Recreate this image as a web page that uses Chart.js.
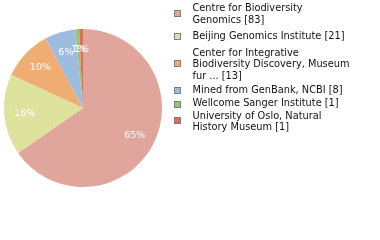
<!DOCTYPE html>
<html lang="en">
  <head>
    <meta charset="utf-8">
    <title>Institutions pie</title>
    <script src="https://cdn.jsdelivr.net/npm/chart.js"></script>
    <style>
      html, body {
        margin: 0;
        padding: 0;
        background: #ffffff;
      }
      #wrap {
        width: 380px;
        height: 240px;
      }
    </style>
  </head>
  <body>
    <div id="wrap"><canvas id="myChart"></canvas></div>

    <script>
      // data
      const institutions = [
        'Centre for Biodiversity Genomics',
        'Beijing Genomics Institute',
        'Center for Integrative Biodiversity Discovery, Museum fur ...',
        'Mined from GenBank, NCBI',
        'Wellcome Sanger Institute',
        'University of Oslo, Natural History Museum'
      ];
      const counts = [83, 21, 13, 8, 1, 1];
      const pctLabels = ['65%', '16%', '10%', '6%', '1%', '1%'];
      // legend text, already wrapped the way the picture wraps it
      const legendLines = [
        ['Centre for Biodiversity', 'Genomics [83]'],
        ['Beijing Genomics Institute [21]'],
        ['Center for Integrative', 'Biodiversity Discovery, Museum', 'fur ... [13]'],
        ['Mined from GenBank, NCBI [8]'],
        ['Wellcome Sanger Institute [1]'],
        ['University of Oslo, Natural', 'History Museum [1]']
      ];
      const colors = ['#e0a59b', '#dde29d', '#f0ad72', '#9ebbe0', '#99c273', '#df6f52'];

      // percent text inside the slices
      const pctPlugin = {
        id: 'pctText',
        afterDatasetsDraw(chart) {
          const c = chart.ctx;
          const arcs = chart.getDatasetMeta(0).data;
          c.save();
          c.font = '9.5px "DejaVu Sans"';
          c.fillStyle = '#ffffff';
          c.textAlign = 'center';
          c.textBaseline = 'middle';
          arcs.forEach((arc, i) => {
            const p = arc.getProps(['x', 'y', 'startAngle', 'endAngle', 'outerRadius']);
            const mid = (p.startAngle + p.endAngle) / 2;
            const r = p.outerRadius * 0.74;
            c.fillText(pctLabels[i], p.x + Math.cos(mid) * r, p.y + Math.sin(mid) * r);
          });
          c.restore();
        }
      };

      // legend on the right, square + wrapped text
      // first-line centre of each entry (the spacing in the picture is uneven)
      const legendTops = [8.5, 36, 53, 90, 103.5, 116];
      const sideLegend = {
        id: 'sideLegend',
        afterDraw(chart) {
          const c = chart.ctx;
          const lineH = 11.8;
          c.save();
          c.font = '9.8px "DejaVu Sans"';
          c.textBaseline = 'middle';
          c.textAlign = 'left';
          legendLines.forEach((lines, i) => {
            const y = legendTops[i];
            let mid = y + (lines.length - 1) * lineH / 2;
            if (lines.length > 1) mid -= 1.5;
            mid = Math.round(mid);
            c.fillStyle = colors[i];
            c.fillRect(174, mid - 3, 7, 7);
            c.strokeStyle = '#7f7f7f';
            c.lineWidth = 1;
            c.strokeRect(174.5, mid - 2.5, 6, 6);
            c.fillStyle = '#111111';
            lines.forEach((t, k) => c.fillText(t, 192.5, y + k * lineH));
          });
          c.restore();
        }
      };

      const ctx = document.getElementById('myChart').getContext('2d');
      const myChart = new Chart(ctx, {
        type: 'pie',
        data: {
          labels: institutions,
          datasets: [{
            data: counts,
            backgroundColor: colors,
            borderWidth: 0
          }]
        },
        options: {
          responsive: true,
          maintainAspectRatio: false,
          animation: false,
          layout: { padding: { left: 4, right: 218, top: 29, bottom: 53 } },
          plugins: {
            legend: { display: false },
            tooltip: { enabled: false }
          }
        },
        plugins: [pctPlugin, sideLegend]
      });
    </script>
  </body>
</html>
